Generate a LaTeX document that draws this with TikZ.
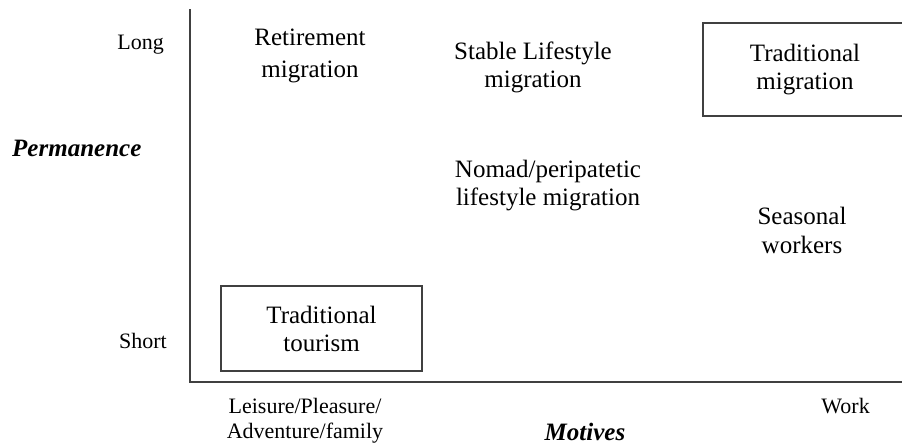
\documentclass[tikz,border=0pt]{standalone}
\usepackage{fontspec}
\setmainfont{Liberation Serif}

\begin{document}
\begin{tikzpicture}[
  x=1pt, y=-1pt,
  axis/.style={draw=black!75, line width=2pt},
  cat/.style={
    align=center,
    inner sep=0pt,
    font=\fontsize{25}{28}\selectfont
  },
  catbox/.style={
    cat,
    draw=black!75,
    line width=1.5pt
  },
  axislab/.style={inner sep=0pt, font=\fontsize{22}{25}\selectfont},
  axistitle/.style={inner sep=0pt, font=\fontsize{25}{28}\selectfont\bfseries\itshape}
]
  \useasboundingbox (0,0) rectangle (902,445);
  \clip (0,0) rectangle (902,445);

  % axes
  \coordinate (ytop) at (190,9);
  \coordinate (origin) at (190,382);
  \coordinate (xend) at (903,382);
  \draw[axis] (ytop) -- (origin) -- (xend);

  % categories
  \node[cat] (retire) at (310,55.5) {Retirement\\[4pt]migration};
  \node[cat] (stable) at (533,67.7) {Stable Lifestyle\\migration};
  \node[catbox, minimum width=204pt, minimum height=93pt] (tradmig) at (805,69.5)
    {Traditional\\migration};
  \node[cat] (nomad) at (548,185.2) {Nomad/peripatetic\\lifestyle migration};
  \node[cat, font=\fontsize{25}{29}\selectfont] (seasonal) at (802,230.5) {Seasonal\\workers};
  \node[catbox, minimum width=201pt, minimum height=85pt] (tourism) at (321.5,328.5)
    {Traditional\\tourism};

  % axis labels
  \node[axislab, anchor=base east] (long) at (164,49) {Long};
  \node[axislab, anchor=base east] (short) at (167,348) {Short};
  \node[axistitle, anchor=base west] (perm) at (12,156) {Permanence};
  \node[axislab, align=center] (leisure) at (305,420.5) {Leisure/Pleasure/\\Adventure/family};
  \node[axislab, anchor=base east] (work) at (870,413) {Work};
  \node[axistitle, anchor=base] (motives) at (585,440.5) {Motives};
\end{tikzpicture}
\end{document}
